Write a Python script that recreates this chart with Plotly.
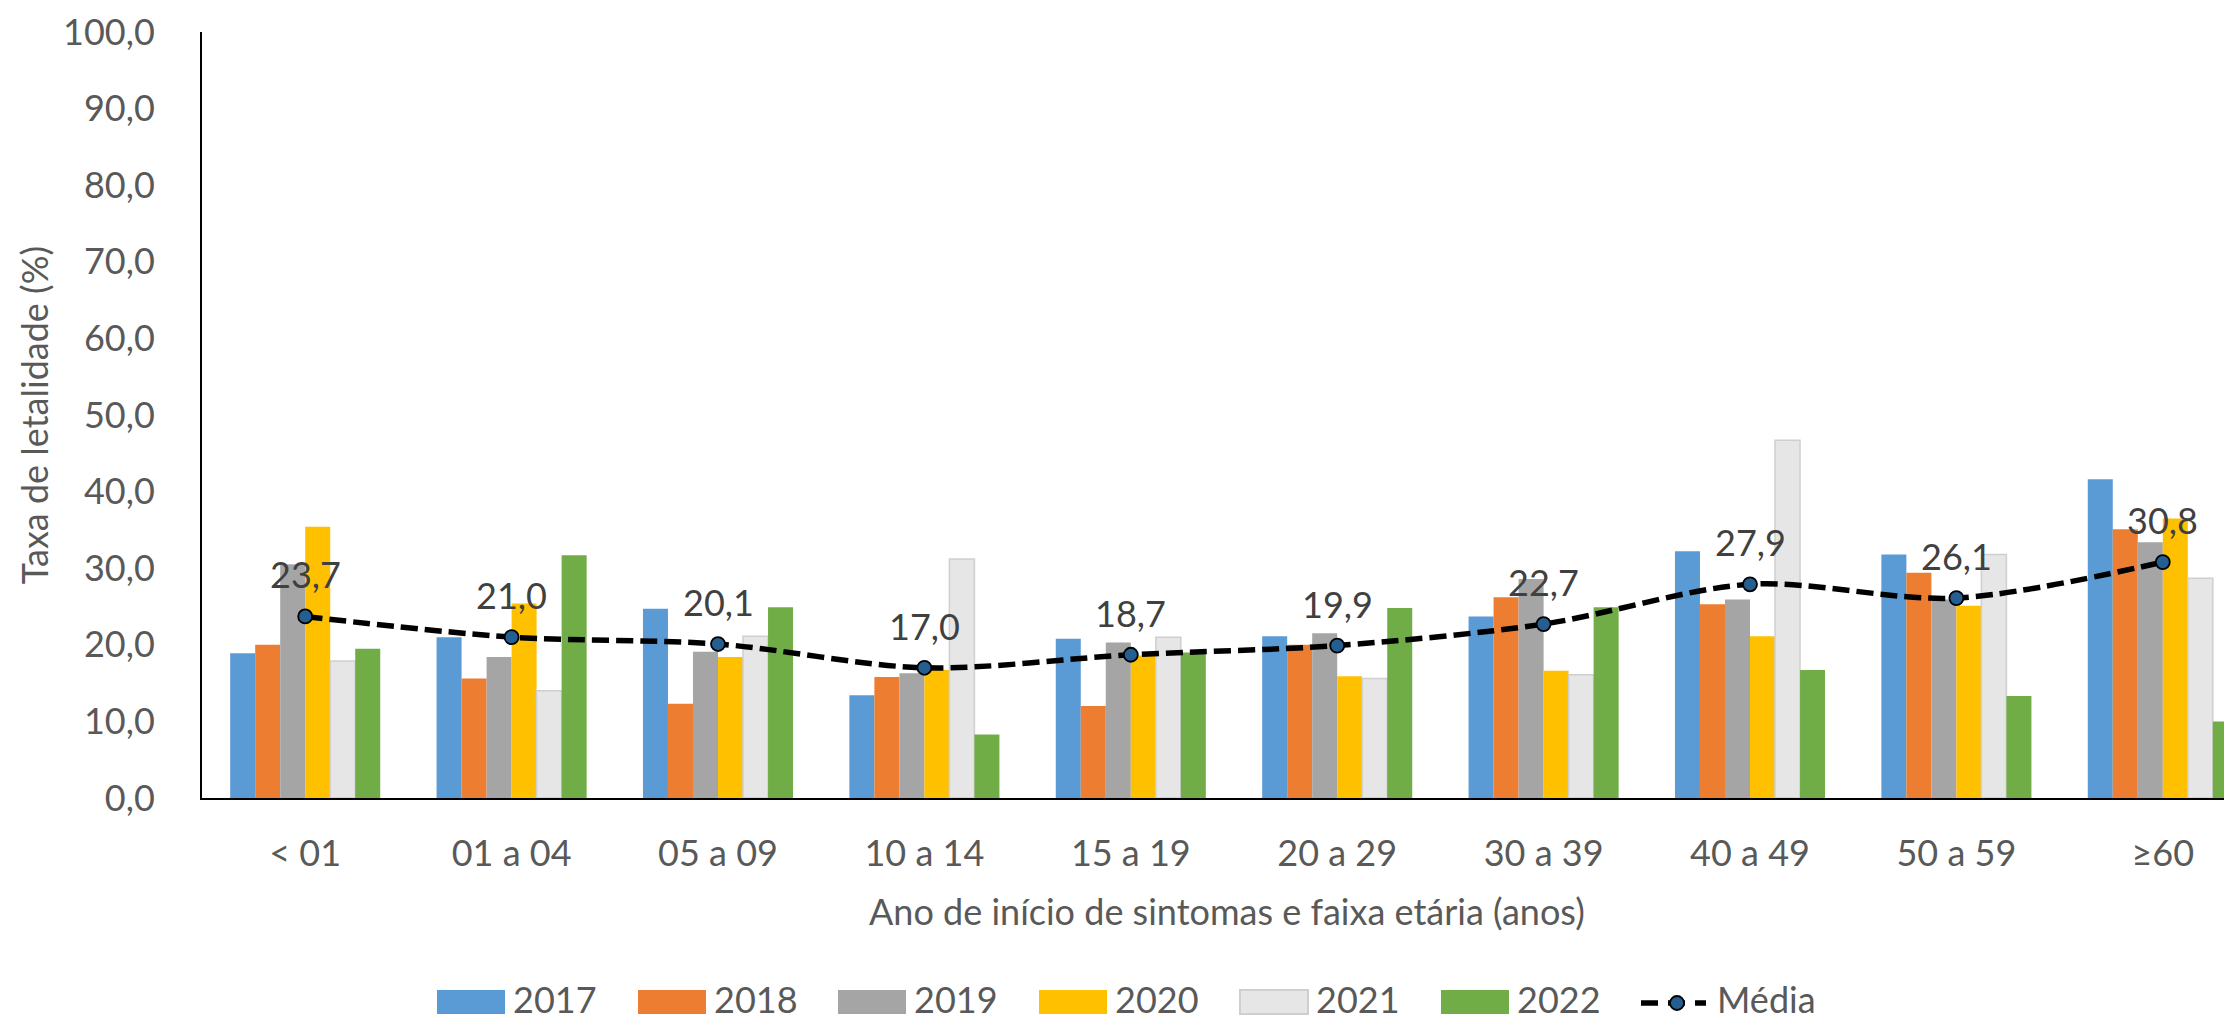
import plotly.graph_objects as go

# ---------------- data ----------------
categories = ["< 01", "01 a 04", "05 a 09", "10 a 14", "15 a 19",
              "20 a 29", "30 a 39", "40 a 49", "50 a 59", "≥60"]

v2017 = [18.9, 21.0, 24.7, 13.4, 20.8, 21.1, 23.7, 32.2, 31.8, 41.6]
v2018 = [20.0, 15.6, 12.3, 15.8, 12.0, 20.0, 26.2, 25.3, 29.4, 35.1]
v2019 = [30.5, 18.4, 19.1, 16.3, 20.3, 21.5, 28.6, 25.9, 25.9, 33.4]
v2020 = [35.4, 25.4, 18.4, 16.7, 18.6, 15.9, 16.6, 21.1, 25.1, 36.5]
v2021 = [17.9, 14.0, 21.1, 31.2, 21.0, 15.6, 16.1, 46.7, 31.8, 28.7]
v2022 = [19.5, 31.7, 24.9, 8.3, 19.0, 24.8, 24.9, 16.7, 13.3, 10.0]
media = [23.7, 21.0, 20.1, 17.0, 18.7, 19.9, 22.7, 27.9, 26.1, 30.8]

years = ["2017", "2018", "2019", "2020", "2021", "2022"]
series = [v2017, v2018, v2019, v2020, v2021, v2022]
colors = ["#5B9BD5", "#ED7D31", "#A5A5A5", "#FFC000", "#E7E6E6", "#70AD47"]
line_colors = [None, None, None, None, "#D0CFCF", None]

yticks = [0, 10, 20, 30, 40, 50, 60, 70, 80, 90, 100]

x_title = "Ano de início de sintomas e faixa etária (anos)"
y_title = "Taxa de letalidade (%)"

# ---------------- layout geometry (page pixels) ----------------
OFF = 8                      # default body margin of the html page
PAGE_W, PAGE_H = 2232, 1021
W, H = PAGE_W - OFF, PAGE_H - OFF
PLOT_L, PLOT_T, PLOT_B = 202, 32, 798      # page coords
L = PLOT_L - OFF
T = PLOT_T - OFF
B = PAGE_H - PLOT_B
R = 0
PW = W - L - R
PH = H - T - B
GROUP_PX = 206.4  # pixel width of one category slot


def px_x(p):
    return (p - PLOT_L) / PW


def px_y(p):
    return (PLOT_B - p) / PH


FONT = "Lato, Carlito, 'Open Sans', sans-serif"
TXT = "#595959"

fig = go.Figure()

for name, vals, col, lc in zip(years, series, colors, line_colors):
    fig.add_trace(go.Bar(
        x=categories, y=vals, name=name,
        marker=dict(color=col,
                    line=dict(color=lc if lc else col, width=1.5 if lc else 0)),
        showlegend=False,
        hovertemplate="%{x}<br>" + name + ": %{y:.1f}<extra></extra>",
    ))

fig.add_trace(go.Scatter(
    x=categories, y=media, name="Média", mode="lines+markers",
    line=dict(color="black", width=5.5, dash="17px,7px", shape="spline", smoothing=0.9),
    marker=dict(size=14, color="#255E91", line=dict(color="black", width=1.8)),
    showlegend=False,
))

# mean value labels
for c, m in zip(categories, media):
    fig.add_annotation(
        x=c, y=m, xref="x", yref="y",
        text=f"{m:.1f}".replace(".", ","),
        showarrow=False, yshift=42, yanchor="middle",
        font=dict(family=FONT, size=36, color="#404040"),
    )

# x axis title (placed as text under the tick labels)
fig.add_annotation(
    x=px_x(1227), y=px_y(911), xref="paper", yref="paper",
    text=x_title, showarrow=False, xanchor="center", yanchor="middle",
    font=dict(family=FONT, size=36, color=TXT),
)

# ---------------- custom legend ----------------
leg_cy = 999
leg_starts = [437, 638, 838, 1039, 1240, 1441]
for name, col, lc, x0 in zip(years, colors, line_colors, leg_starts):
    fig.add_shape(
        type="rect", xref="paper", yref="paper",
        x0=px_x(x0), x1=px_x(x0 + 68), y0=px_y(leg_cy + 15), y1=px_y(leg_cy - 9),
        fillcolor=col, line=dict(color=lc if lc else col, width=2 if lc else 0),
    )
    fig.add_annotation(
        x=px_x(x0 + 75), y=px_y(leg_cy), xref="paper", yref="paper",
        text=name, showarrow=False, xanchor="left", yanchor="middle", borderpad=0,
        font=dict(family=FONT, size=36, color=TXT),
    )

# Média legend entry
fig.add_shape(type="line", xref="paper", yref="paper",
              x0=px_x(1641), x1=px_x(1706), y0=px_y(leg_cy + 4), y1=px_y(leg_cy + 4),
              line=dict(color="black", width=5.5, dash="17px,10px"))
fig.add_shape(type="circle", xref="paper", yref="paper",
              x0=px_x(1670), x1=px_x(1684), y0=px_y(leg_cy + 11), y1=px_y(leg_cy - 3),
              fillcolor="#255E91", line=dict(color="black", width=1.8))
fig.add_annotation(
    x=px_x(1716), y=px_y(leg_cy), xref="paper", yref="paper",
    text="Média", showarrow=False, xanchor="left", yanchor="middle", borderpad=0,
    font=dict(family=FONT, size=36, color=TXT),
)

x_max = PW / GROUP_PX - 0.5

fig.update_layout(
    width=W, height=H,
    margin=dict(l=L, r=R, t=T, b=B, pad=0, autoexpand=False),
    paper_bgcolor="white", plot_bgcolor="white",
    barmode="group", bargap=0.273, bargroupgap=0,
    separators=", ",
    font=dict(family=FONT, size=36, color=TXT),
    showlegend=False,
    xaxis=dict(
        type="category", range=[-0.5, x_max],
        showline=True, linecolor="black", linewidth=2,
        showgrid=False, ticks="", zeroline=False,
        tickfont=dict(family=FONT, size=36, color=TXT),
        ticklabelstandoff=23,
    ),
    yaxis=dict(
        range=[0, 100], tickvals=yticks, tickformat=".1f",
        showline=True, linecolor="black", linewidth=2,
        showgrid=False, zeroline=False, ticks="",
        tickfont=dict(family=FONT, size=36, color=TXT),
        ticklabelstandoff=38, ticklabeloverflow="allow",
        title=dict(text=y_title,
                   font=dict(family=FONT, size=36, color=TXT), standoff=3),
    ),
)

fig.write_html("out.html")
